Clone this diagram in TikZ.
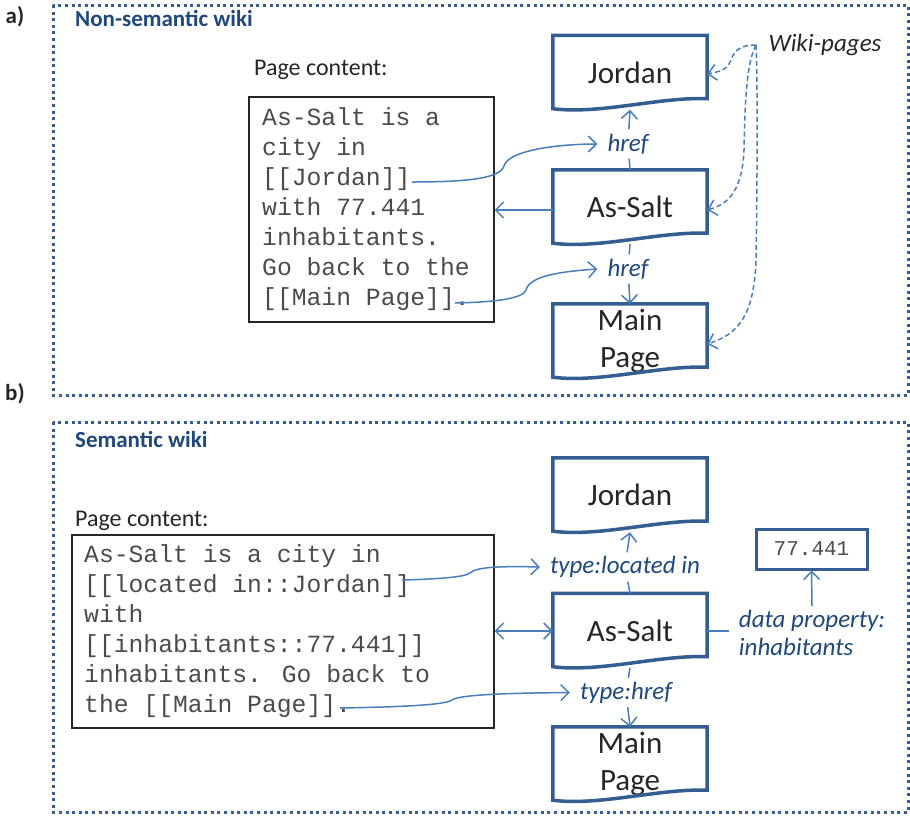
\documentclass[tikz,border=0pt]{standalone}
\usepackage{fontspec}
\setmainfont{Carlito}
\newfontfamily\codefont{Liberation Mono}
\usetikzlibrary{arrows.meta,calc}

\definecolor{docblue}{RGB}{52,94,145}
\definecolor{arrowblue}{RGB}{74,126,187}
\definecolor{labelblue}{RGB}{31,73,125}
\definecolor{framblue}{RGB}{56,93,138}
\definecolor{codegray}{RGB}{75,75,75}
\definecolor{inkdark}{RGB}{38,38,38}

\tikzset{
  frame/.style={draw=framblue, line width=3, dash pattern=on 3 off 3.6},
  docbox/.style={rectangle, inner sep=0, minimum width=154, minimum height=74,
    font=\fontsize{31}{37}\selectfont, text=inkdark, align=center},
  docline/.style={draw=docblue, line width=3.5, line join=miter},
  conn/.style={draw=arrowblue, line width=1.5},
  tip/.style={-{Straight Barb[length=8, width=16, line width=1.5]}},
  bothtip/.style={{Straight Barb[length=8, width=16, line width=1.5]}-{Straight Barb[length=8, width=16, line width=1.5]}},
  lbl/.style={inner xsep=10, inner ysep=0, minimum height=29, text=labelblue,
    font=\fontsize{25}{28}\selectfont\itshape},
  codeline/.style={anchor=base west, inner sep=0, text=codegray,
    font=\codefont\fontsize{24.7}{30}\selectfont},
  textbox/.style={draw=inkdark, line width=1.2, rectangle, inner sep=0},
  caption/.style={anchor=base west, inner sep=0, text=inkdark,
    font=\fontsize{24}{28}\selectfont},
  title/.style={anchor=base west, inner sep=0, text=labelblue,
    font=\fontsize{23}{28}\selectfont\bfseries},
  partlbl/.style={inner sep=0, text=inkdark, font=\fontsize{23}{26}\selectfont\bfseries},
  wikidash/.style={draw=arrowblue, line width=1.5, dash pattern=on 5 off 3}
}

% document symbol: straight top and sides, wavy bottom edge
\newcommand{\docoutline}[1]{%
  \path[docline] (#1.north west) -- (#1.north east) -- ($(#1.south east)+(0,-11)$)
    .. controls ($(#1.south east)+(-47,-13)$) and ($(#1.south west)+(47,5)$)
    .. ($(#1.south west)+(0,-1)$) -- cycle;}

\begin{document}
\begin{tikzpicture}[x=1pt, y=-1pt]
\useasboundingbox (0,0) rectangle (910,815);

% ---------- frames ----------
\draw[frame] (53,5) rectangle (908,395);
\draw[frame] (53,422) rectangle (908,812);
\node[partlbl] (parta) at (15,17) {a)};
\node[partlbl] (partb) at (15,394) {b)};
\node[title] (titlea) at (75,26) {Non-semantic wiki};
\node[title] (titleb) at (75,447) {Semantic wiki};

% ================= a) non-semantic wiki =================
\node[caption] (capa) at (254,75) {Page content:};
\node[textbox, minimum width=245, minimum height=225] (boxa) at (371.5,209.5) {};
\node[codeline] (pa1) at (262,125) {As-Salt is a};
\node[codeline] (pa2) at (262,155) {city in};
\node[codeline] (pa3) at (262,185) {[[Jordan]]};
\node[codeline] (pa4) at (262,215) {with 77.441};
\node[codeline] (pa5) at (262,245) {inhabitants.};
\node[codeline] (pa6) at (262,275) {Go back to the};
\node[codeline] (pa7) at (262,305) {[[Main Page]].};
\coordinate (linkjoa) at (412,182);
\coordinate (linkmpa) at (455,303);

\node[docbox] (jordana) at (630,72.5) {Jordan};
\node[docbox] (asalta) at (630,207) {As-Salt};
\node[docbox] (maina) at (630,341) {Main\\Page};
\docoutline{jordana}
\docoutline{asalta}
\docoutline{maina}

\node[lbl] (hrefa1) at (628,144) {href};
\node[lbl] (hrefa2) at (628,269) {href};

\draw[conn] (asalta.north) -- (hrefa1);
\draw[conn, tip] (hrefa1) -- (jordana.south);
\draw[conn] (asalta.south) -- (hrefa2);
\draw[conn, tip] (hrefa2) -- (maina.north);
\draw[conn, tip] (asalta.west |- 0,210) -- (boxa.east |- 0,210);

\draw[conn, tip] (linkjoa) .. controls (470,182) and (500,178) .. (504,166)
  .. controls (508,150) and (560,144) .. (hrefa1.west);
\draw[conn, tip] (linkmpa) .. controls (500,302) and (523,298) .. (526,290)
  .. controls (530,274) and (570,271) .. (hrefa2.west);

% wiki-page pointers
\node[inner sep=0, text=inkdark, font=\fontsize{25}{28}\selectfont\itshape] (wikip) at (825,45) {Wiki-pages};
\coordinate (wpsrc) at (756,45);
\draw[wikidash, tip] (wpsrc) .. controls (738,45) and (734,52) .. (730,62)
  .. controls (727,70) and (718,72) .. (jordana.east |- 0,74);
\draw[wikidash, tip] (wpsrc) .. controls (748,60) and (745,90) .. (744,150)
  .. controls (742,195) and (725,205) .. (asalta.east |- 0,210);
\draw[wikidash, tip] (wpsrc) .. controls (758,90) and (757,200) .. (756,260)
  .. controls (754,320) and (735,335) .. (maina.east |- 0,344);

% ================= b) semantic wiki =================
\node[caption] (capb) at (75,526) {Page content:};
\node[textbox, minimum width=422, minimum height=193] (boxb) at (283,631.5) {};
\node[codeline] (pb1) at (84,562) {As-Salt is a city in};
\node[codeline] (pb2) at (84,592) {[[located in::Jordan]]};
\node[codeline] (pb3) at (84,622) {with};
\node[codeline] (pb4) at (84,652) {[[inhabitants::77.441]]};
\node[codeline] (pb5) at (84,682) {inhabitants. Go back to};
\node[codeline] (pb6) at (84,712) {the [[Main Page]].};
\coordinate (linkjob) at (402,580);
\coordinate (linkmpb) at (340,708);

\node[docbox] (jordanb) at (630,495) {Jordan};
\node[docbox] (asaltb) at (630,630.5) {As-Salt};
\node[docbox] (mainb) at (630,764) {Main\\Page};
\docoutline{jordanb}
\docoutline{asaltb}
\docoutline{mainb}

\node[lbl] (typeloc) at (625,567) {type:located in};
\node[lbl] (typehref) at (626,692.5) {type:href};

\draw[conn] (asaltb.north) -- (typeloc);
\draw[conn, tip] (typeloc) -- (jordanb.south);
\draw[conn] (asaltb.south) -- (typehref);
\draw[conn, tip] (typehref) -- (mainb.north);
\draw[conn, bothtip] (boxb.east |- 0,631) -- (asaltb.west |- 0,631);

\draw[conn, tip] (linkjob) .. controls (440,579) and (465,577) .. (470,573)
  .. controls (476,567) and (500,566) .. (typeloc.west);
\draw[conn, tip] (linkmpb) .. controls (400,707) and (445,705) .. (452,700)
  .. controls (460,694) and (520,693) .. (typehref.west);

% data property
\node[textbox, draw=docblue, line width=3, minimum width=111, minimum height=40,
  text=codegray, font=\codefont\fontsize{21}{24}\selectfont] (valbox) at (811.5,549) {77.441};
\node[lbl, align=left, inner ysep=4] (dataprop) at (812,633) {data property:\\inhabitants};
\draw[conn] (asaltb.east |- 0,631) -- (dataprop.west |- 0,631);
\draw[conn, tip] (dataprop.north) -- (valbox.south);

\end{tikzpicture}
\end{document}
